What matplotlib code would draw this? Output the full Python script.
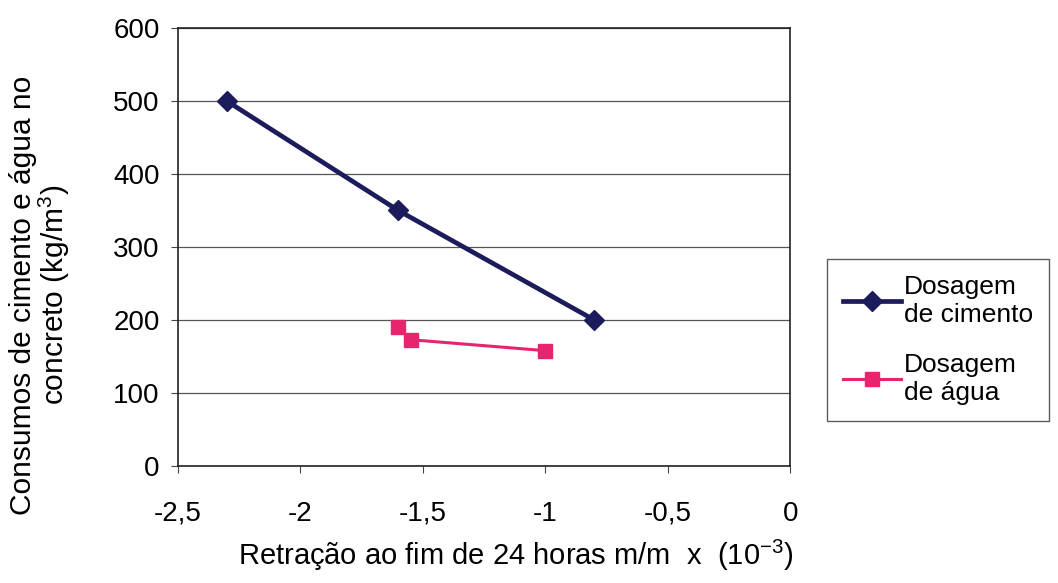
import matplotlib.pyplot as plt
from matplotlib.ticker import FuncFormatter

plt.rcParams['font.family'] = ['Liberation Sans', 'DejaVu Sans']
plt.rcParams['mathtext.fontset'] = 'custom'
plt.rcParams['mathtext.rm'] = 'Liberation Sans'
plt.rcParams['mathtext.it'] = 'Liberation Sans'

# retração (x 10^-3) e consumos (kg/m3)
cimento_x = [-2.3, -1.6, -0.8]
cimento_y = [500, 350, 200]
agua_x = [-1.6, -1.55, -1.0]
agua_y = [190, 173, 158]
labels = ['Dosagem\nde cimento', 'Dosagem\nde água']

fig = plt.figure(figsize=(10.58, 5.83), dpi=100)
ax = fig.add_axes([0.168, 0.2007, 0.579, 0.7513])

ax.plot(cimento_x, cimento_y, color='#1c1c5c', lw=3.4, marker='D',
        markersize=10, label=labels[0])
ax.plot(agua_x, agua_y, color='#e8246f', lw=2.2, marker='s',
        markersize=10, label=labels[1])

ax.set_xlim(-2.5, 0)
ax.set_ylim(0, 600)
ax.set_xticks([-2.5, -2, -1.5, -1, -0.5, 0])
ax.set_yticks(range(0, 601, 100))
ax.xaxis.set_major_formatter(FuncFormatter(lambda v, p: ('%g' % v).replace('.', ',')))
ax.grid(axis='y', color='#555555', lw=0.9)
ax.set_axisbelow(True)
for s in ax.spines.values():
    s.set_color('#222222')
    s.set_linewidth(1.2)
ax.tick_params(axis='both', labelsize=20, length=5, direction='out', color='#444444')
ax.tick_params(axis='x', pad=20)
ax.tick_params(axis='y', pad=8)

ax.set_xlabel('Retração ao fim de 24 horas m/m  x  (10$^{\\mathrm{-3}}$)', fontsize=21)
ax.xaxis.set_label_coords(0.552, -0.165)
ax.set_ylabel('Consumos de cimento e água no\nconcreto (kg/m$^{3}$)', fontsize=21.5,
              linespacing=1.0)
ax.yaxis.set_label_coords(-0.172, 0.39)

leg = fig.legend(loc='center left', bbox_to_anchor=(0.782, 0.417), fontsize=19,
                 frameon=True, fancybox=False, handlelength=2.2, handletextpad=0.1,
                 labelspacing=1.0, borderpad=0.6, borderaxespad=0)
leg.get_frame().set_edgecolor('#333333')
leg.get_frame().set_linewidth(1.0)

fig.savefig('out.png', dpi=100)
